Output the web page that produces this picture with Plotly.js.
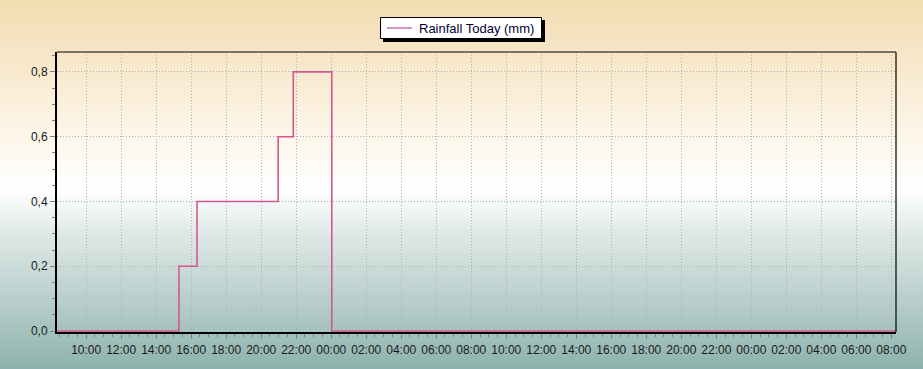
<!DOCTYPE html>
<html>
<head>
<meta charset="utf-8">
<script src="https://cdn.plot.ly/plotly-3.0.1.min.js"></script>
<style>
html,body{margin:0;padding:0;}
body{width:923px;height:369px;overflow:hidden;
background:linear-gradient(to bottom,#f3ddb1 0%,#fbf1df 30%,#ffffff 51%,#dbe6e4 65%,#b0c9c5 85%,#8db2ad 100%);}
#chart{width:923px;height:369px;}
</style>
</head>
<body>
<div id="chart"></div>
<script>
// Data
const times = [
  '2024-01-01 08:20', '2024-01-01 15:18', '2024-01-01 16:20', '2024-01-01 20:58',
  '2024-01-01 21:50', '2024-01-02 00:02', '2024-01-03 08:16'
];
const rainfall = [0, 0.2, 0.4, 0.6, 0.8, 0, 0];
const seriesName = 'Rainfall Today (mm)';
const xRange = ['2024-01-01 08:20', '2024-01-03 08:16'];
const yTicks = [0, 0.2, 0.4, 0.6, 0.8];

const W = 923, H = 369;
const M = {l: 57, r: 27, t: 52, b: 37};
const pw = W - M.l - M.r, ph = H - M.t - M.b;
const px = x => (x - M.l) / pw;
const py = y => (H - M.b - y) / ph;

const font = {family: 'Liberation Sans, Arial, sans-serif', size: 12, color: '#1a1a1a'};
const lineColor = '#d4588f';

const trace = {
  x: times, y: rainfall, type: 'scatter', mode: 'lines', name: seriesName,
  line: {shape: 'hv', color: lineColor, width: 1.6},
  showlegend: false
};

const layout = {
  width: W, height: H,
  margin: M,
  paper_bgcolor: 'rgba(0,0,0,0)',
  plot_bgcolor: 'rgba(0,0,0,0)',
  font: font,
  separators: ',.',
  showlegend: false,
  xaxis: {
    type: 'date', range: xRange,
    tickformat: '%H:%M', dtick: 2 * 3600 * 1000, tick0: '2024-01-01 00:00',
    ticks: 'outside', ticklen: 5, tickcolor: '#808080', tickwidth: 1,
    showgrid: true, gridcolor: '#b0b0b0', griddash: '1px,2px', gridwidth: 1,
    showline: true, linecolor: '#000000', linewidth: 2,
    minor: {dtick: 30 * 60 * 1000, ticks: 'outside', ticklen: 3, tickcolor: '#808080', showgrid: false},
    layer: 'below traces', zeroline: false, tickfont: font, ticklabelstandoff: 1
  },
  yaxis: {
    range: [-0.003, 0.8615],
    tickvals: yTicks, tickformat: '.1f',
    ticks: 'outside', ticklen: 5, tickcolor: '#808080', tickwidth: 1,
    showgrid: true, gridcolor: '#b0b0b0', griddash: '1px,2px', gridwidth: 1,
    showline: true, linecolor: '#000000', linewidth: 2,
    minor: {dtick: 0.05, tick0: 0, ticks: 'outside', ticklen: 3, tickcolor: '#808080', showgrid: false},
    layer: 'below traces', zeroline: false, tickfont: font
  },
  shapes: [
    {type: 'line', xref: 'paper', yref: 'paper', x0: 0, x1: 1, y0: 1, y1: 1, line: {color: '#000', width: 1.2}},
    {type: 'line', xref: 'paper', yref: 'paper', x0: 1, x1: 1, y0: 0, y1: 1, line: {color: '#000', width: 1.2}},
    // legend box with shadow
    {type: 'rect', xref: 'paper', yref: 'paper', x0: px(383), x1: px(545), y0: py(20), y1: py(42),
     fillcolor: '#000', line: {width: 0}, layer: 'above'},
    {type: 'rect', xref: 'paper', yref: 'paper', x0: px(380.5), x1: px(541.5), y0: py(17.5), y1: py(38.5),
     fillcolor: '#fff', line: {color: '#000', width: 1}, layer: 'above'},
    {type: 'line', xref: 'paper', yref: 'paper', x0: px(387), x1: px(412), y0: py(28), y1: py(28),
     line: {color: '#b05890', width: 1.2}, layer: 'above'}
  ],
  annotations: [
    {xref: 'paper', yref: 'paper', x: px(417), y: py(28.5), xanchor: 'left', yanchor: 'middle',
     text: seriesName, showarrow: false,
     font: {family: 'Liberation Sans, Arial, sans-serif', size: 13, color: '#000035'}}
  ]
};

Plotly.newPlot('chart', [trace], layout, {displayModeBar: false, staticPlot: true});
</script>
</body>
</html>
